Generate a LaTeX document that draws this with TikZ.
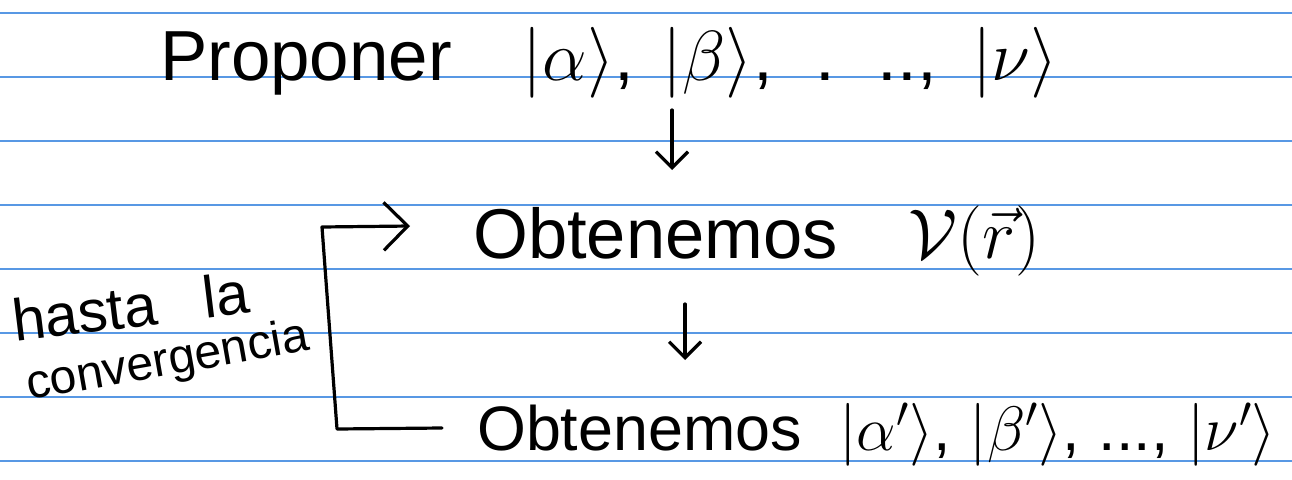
\RequirePackage{fix-cm}
\documentclass[tikz,border=0pt]{standalone}
\usepackage{fontspec}
\usepackage{graphicx}
\setmainfont{Liberation Sans}
\usetikzlibrary{arrows.meta}
\definecolor{rule}{RGB}{88,152,228}
\tikzset{
  ink/.style={line width=3.2pt, line cap=round, line join=round, black},
  ruleline/.style={line width=1.6pt, rule},
  txt/.style={anchor=base west, inner sep=0pt, font=\fontsize{60}{70}\selectfont},
  head/.style={-{Straight Barb[length=#1, width=2*#1, line width=3.2pt]}},
}
\begin{document}
\begin{tikzpicture}[x=1pt,y=-1pt]
\useasboundingbox (0,0) rectangle (1292,479);
% ruled paper
\foreach \yy in {13,77,141,205,269,333,397,461}
  \draw[ruleline] (0,\yy) -- (1292,\yy);
% texts
\node[txt] (t1) at (160,80) {\resizebox{898pt}{!}{Proponer\hspace{1em}$|\alpha\rangle$,\hspace{0.4em}$|\beta\rangle$,\hspace{0.6em}.\hspace{0.6em}..,\hspace{0.5em}$|\nu\rangle$}};
\node[txt] (t2) at (473,258) {\resizebox{567pt}{!}{Obtenemos\hspace{1em}$\mathcal{V}(\vec{r})$}};
\node[txt,font=\fontsize{55}{65}\selectfont] (t3) at (477,450) {\resizebox{799pt}{!}{Obtenemos\hspace{0.6em}$|\alpha'\rangle$,\hspace{0.3em}$|\beta'\rangle$,\hspace{0.3em}...,\hspace{0.3em}$|\nu'\rangle$}};
\node[txt,font=\fontsize{48}{56}\selectfont,rotate=7] (h1) at (15,342) {\resizebox{238pt}{!}{hasta\hspace{0.8em}la}};
\node[txt,font=\fontsize{44}{50}\selectfont,rotate=10] (h2) at (29,400) {\resizebox{286pt}{!}{convergencia}};
% arrows
\coordinate (a1s) at (672,110);
\coordinate (a1e) at (672,170);
\coordinate (a2s) at (685,304);
\coordinate (a2e) at (685,360);
\draw[ink,head=16pt] (a1s) -- (a1e);
\draw[ink,head=16pt] (a2s) -- (a2e);
% loop bracket
\coordinate (bs) at (442,428);
\coordinate (bc1) at (337,429);
\coordinate (bc2) at (322,227);
\coordinate (be) at (410,226);
\draw[ink,head=24pt] (bs) -- (bc1) -- (bc2) -- (be);
\end{tikzpicture}
\end{document}
